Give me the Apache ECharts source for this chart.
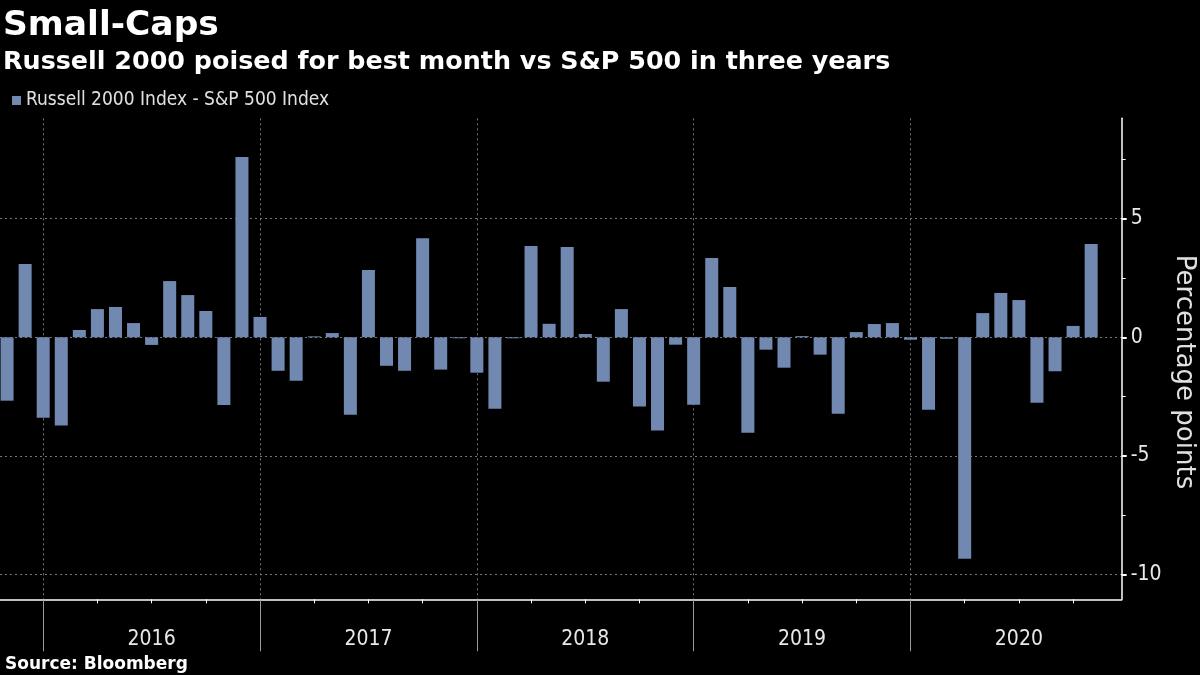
<!DOCTYPE html>
<html>
<head>
<meta charset="utf-8">
<script src="https://cdn.jsdelivr.net/npm/echarts@6/dist/echarts.min.js"></script>
<style>
html,body{margin:0;padding:0;background:#000;}
#chart{width:1200px;height:675px;}
</style>
</head>
<body>
<div id="chart"></div>
<script>
// Month-end observations (Oct 2015 .. Oct 2020)
const months = [
  '2015-10','2015-11','2015-12',
  '2016-01','2016-02','2016-03','2016-04','2016-05','2016-06','2016-07','2016-08','2016-09','2016-10','2016-11','2016-12',
  '2017-01','2017-02','2017-03','2017-04','2017-05','2017-06','2017-07','2017-08','2017-09','2017-10','2017-11','2017-12',
  '2018-01','2018-02','2018-03','2018-04','2018-05','2018-06','2018-07','2018-08','2018-09','2018-10','2018-11','2018-12',
  '2019-01','2019-02','2019-03','2019-04','2019-05','2019-06','2019-07','2019-08','2019-09','2019-10','2019-11','2019-12',
  '2020-01','2020-02','2020-03','2020-04','2020-05','2020-06','2020-07','2020-08','2020-09','2020-10'
];
// Russell 2000 minus S&P 500 monthly return, percentage points
const spread = [
  -2.67, 3.09, -3.39,
  -3.72, 0.31, 1.19, 1.28, 0.60, -0.32, 2.37, 1.78, 1.11, -2.85, 7.60, 0.86,
  -1.41, -1.83, 0.04, 0.18, -3.26, 2.84, -1.20, -1.41, 4.18, -1.36, -0.04, -1.49,
  -3.01, -0.04, 3.85, 0.57, 3.81, 0.14, -1.87, 1.19, -2.92, -3.93, -0.31, -2.84,
  3.34, 2.12, -4.02, -0.52, -1.28, 0.05, -0.73, -3.22, 0.22, 0.56, 0.60, -0.10,
  -3.05, -0.06, -9.33, 1.02, 1.87, 1.57, -2.76, -1.43, 0.48, 3.93
];
const years = ['2016','2017','2018','2019','2020'];
const yTickLabels = [-10, -5, 0, 5];
const yMinorTicks = [-7.5, -2.5, 2.5, 7.5];
const seriesName = 'Russell 2000 Index - S&P 500 Index';

// x position: months since the start of 2016, bar at month end
function monthPos(m) {
  const [y, mo] = m.split('-').map(Number);
  return (y - 2016) * 12 + mo; // end of month
}
const barData = months.map((m, i) => [monthPos(m), spread[i]]);
const yearStart = years.map((y, i) => i * 12);
const yearMid = years.map((y, i) => i * 12 + 6);
const quarterTicks = [];
for (let q = 3; q < 60; q += 3) if (q % 12 !== 0) quarterTicks.push(q);

const X_MIN = -2.391, X_MAX = 59.69;
const Y_MIN = -11.04, Y_MAX = 9.23;
const FONT = "'DejaVu Sans Condensed', 'DejaVu Sans', sans-serif";
const FONT_B = "'DejaVu Sans', sans-serif";

const chart = echarts.init(document.getElementById('chart'), null, {renderer: 'canvas'});
chart.setOption({
  backgroundColor: '#000',
  animation: false,
  grid: {left: 0, right: 78.3, top: 118.3, bottom: 75.7},
  legend: {
    data: [seriesName],
    left: 12, top: 91, padding: 0,
    icon: 'rect', itemWidth: 9, itemHeight: 9,
    textStyle: {color: '#e0e0e0', fontSize: 19, fontFamily: FONT}
  },
  graphic: [
    {type: 'text', x: 3, y: 26, style: {text: 'Small-Caps', fill: '#fff', font: "bold 34.5px " + FONT_B, verticalAlign: 'middle'}},
    {type: 'text', x: 3, y: 62, style: {text: 'Russell 2000 poised for best month vs S&P 500 in three years', fill: '#fff', font: "bold 25.4px " + FONT_B, verticalAlign: 'middle'}},
    {type: 'text', x: 5, y: 665, style: {text: 'Source: Bloomberg', fill: '#fff', font: "bold 17px " + FONT_B, verticalAlign: 'middle'}},
    {type: 'text', x: 1184, y: 372, rotation: -Math.PI / 2, style: {text: 'Percentage points', fill: '#e0e0e0', font: "26px " + FONT_B, align: 'center', verticalAlign: 'middle'}}
  ],
  xAxis: [
    {
      type: 'value', min: X_MIN, max: X_MAX, position: 'bottom',
      axisLine: {show: true, onZero: false, lineStyle: {color: '#fff', width: 1.5}},
      axisTick: {show: true, customValues: quarterTicks, length: 4, lineStyle: {color: '#fff'}},
      axisLabel: {show: false},
      splitLine: {show: false}
    },
    {
      type: 'value', min: X_MIN, max: X_MAX, position: 'bottom',
      axisLine: {show: false, onZero: false},
      axisTick: {show: true, customValues: yearStart, length: 52, lineStyle: {color: '#9a9a9a'}},
      axisLabel: {show: true, customValues: yearMid, margin: 30, color: '#e8e8e8', fontSize: 21, fontFamily: FONT,
        formatter: v => years[Math.round((v - 6) / 12)]},
      splitLine: {show: true, lineStyle: {color: '#777', type: [2, 3], width: 1}}
    }
  ],
  yAxis: [
    {
      type: 'value', min: Y_MIN, max: Y_MAX, position: 'right',
      axisLine: {show: true, onZero: false, lineStyle: {color: '#fff', width: 1.5}},
      axisTick: {show: true, customValues: yTickLabels, length: 5, lineStyle: {color: '#fff', width: 2}},
      axisLabel: {show: true, customValues: yTickLabels, margin: 9, color: '#e8e8e8', fontSize: 21, fontFamily: FONT,
        formatter: v => String(v)},
      splitLine: {show: true, lineStyle: {color: '#777', type: [2, 3], width: 1}}
    },
    {
      type: 'value', min: Y_MIN, max: Y_MAX, position: 'right',
      axisLine: {show: false, onZero: false},
      axisTick: {show: true, customValues: yMinorTicks, length: 4, lineStyle: {color: '#fff', width: 1}},
      axisLabel: {show: false},
      splitLine: {show: false}
    }
  ],
  series: [{
    name: seriesName,
    type: 'bar',
    xAxisIndex: 0, yAxisIndex: 0,
    barWidth: 13,
    itemStyle: {color: '#7189b1'},
    data: barData
  }]
});
</script>
</body>
</html>
